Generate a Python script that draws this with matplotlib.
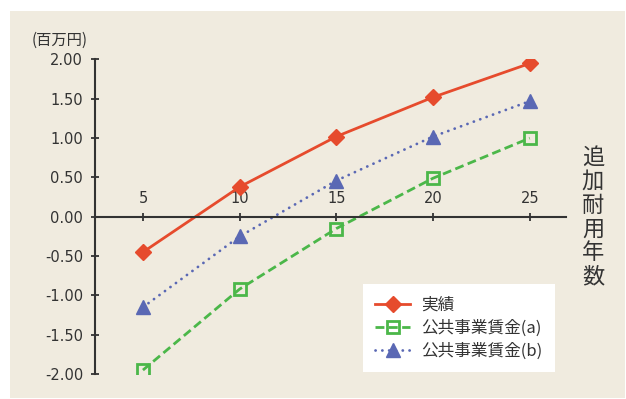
import matplotlib
matplotlib.use("Agg")
import matplotlib.pyplot as plt
from matplotlib.patches import Rectangle

# 数字は DejaVu、日本語は Noto
plt.rcParams['font.family'] = ['DejaVu Sans', 'Noto Sans CJK JP']
jp = ['Noto Sans CJK JP', 'DejaVu Sans']

# データ
years = [5, 10, 15, 20, 25]
actual = [-0.45, 0.38, 1.02, 1.52, 1.95]
wage_a = [-1.95, -0.92, -0.15, 0.49, 1.00]
wage_b = [-1.15, -0.25, 0.46, 1.02, 1.47]
labels = ["実績", "公共事業賃金(a)", "公共事業賃金(b)"]
yticks = [2.0, 1.5, 1.0, 0.5, 0.0, -0.5, -1.0, -1.5, -2.0]

W, H = 626, 399
fig = plt.figure(figsize=(W / 100, H / 100), dpi=100, facecolor="white")
# 背景のベージュ
fig.patches.append(Rectangle((10 / W, 1 / H), 615 / W, 1 - 12 / H,
                             transform=fig.transFigure, facecolor="#f0ebdf",
                             edgecolor="none", zorder=-10))

ax = fig.add_axes([95 / W, 1 - 374 / H, (565.7 - 95) / W, (374 - 59.5) / H])
ax.set_facecolor("none")

ax.plot(years, actual, color="#e64b2d", lw=2, marker="D", ms=8, label=labels[0])
ax.plot(years, wage_a, color="#4bb749", lw=2, ls=(0, (3.2, 1.6)), marker="s", ms=8,
        mfc="none", mew=2, label=labels[1])
ax.plot(years, wage_b, color="#5a68b4", lw=2, ls=(0, (0.05, 2.4)),
        dash_capstyle="round", marker="^", ms=10, label=labels[2])

ax.set_xlim(2.52, 26.86)
ax.set_ylim(-2.0, 2.0)

dark = "#333333"
for s in ["right", "bottom"]:
    ax.spines[s].set_visible(False)
ax.spines["left"].set_color(dark)
ax.spines["left"].set_linewidth(1.5)
ax.spines["top"].set_position(("data", 0))
ax.spines["top"].set_color(dark)
ax.spines["top"].set_linewidth(1.5)

ax.xaxis.set_ticks_position("top")
ax.set_xticks(years)
ax.set_xticklabels([str(y) for y in years])
ax.set_yticks(yticks)
ax.set_yticklabels(["%.2f" % v for v in yticks])
ax.tick_params(axis="both", direction="inout", length=6, width=1.3, color=dark,
               labelcolor=dark, labelsize=10.5)
ax.tick_params(axis="x", pad=4.5)
ax.tick_params(axis="y", pad=5.5)

fig.text(32 / W, 1 - 40 / H, "(百万円)", fontsize=11, color=dark, va="center",
         ha="left", family=jp)
fig.text(593 / W, 1 - 217 / H, "\n".join("追加耐用年数"), fontsize=16, color=dark,
         va="center", ha="center", linespacing=1.05, family=jp)

leg = ax.legend(loc="upper left", bbox_to_anchor=(362.7 / W, 1 - 284 / H),
                bbox_transform=fig.transFigure, frameon=True, fancybox=False,
                facecolor="white", edgecolor="none", framealpha=1,
                prop={"family": jp, "size": 12}, handlelength=2.1, labelspacing=0.35,
                borderpad=0.75, borderaxespad=0, handletextpad=0.66)
for t in leg.get_texts():
    t.set_color(dark)

fig.savefig("out.png", dpi=100, facecolor="white")
